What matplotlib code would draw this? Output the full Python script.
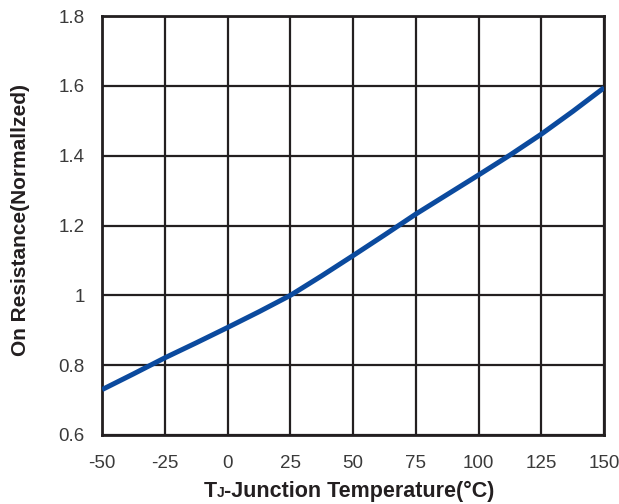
import numpy as np
import matplotlib.pyplot as plt
from matplotlib.offsetbox import TextArea, HPacker, AnchoredOffsetbox

plt.rcParams['font.family'] = ['Liberation Sans', 'DejaVu Sans']
plt.rcParams['axes.unicode_minus'] = False

# junction temperature (°C) and normalized on-resistance
temp_c = [-50, -37.5, -25, -12.5, 0, 12.5, 25, 37.5, 50, 62.5,
          75, 87.5, 100, 112.5, 125, 137.5, 150]
r_on_norm = [0.730, 0.775, 0.821, 0.864, 0.908, 0.953, 1.000, 1.056, 1.114, 1.173,
             1.233, 1.289, 1.345, 1.402, 1.462, 1.527, 1.595]

x_ticks = [-50, -25, 0, 25, 50, 75, 100, 125, 150]
y_ticks = [0.6, 0.8, 1.0, 1.2, 1.4, 1.6, 1.8]

grid_col = "#231f20"
line_col = "#0b4a9e"
text_col = "#231f20"

fig = plt.figure(figsize=(6.19, 5.04), dpi=100, facecolor="white")
ax = fig.add_axes([0.165, 0.137, 0.811, 0.831])

ax.plot(temp_c, r_on_norm, color=line_col, lw=3.6, solid_capstyle="butt", zorder=3)

ax.set_xlim(-50, 150)
ax.set_ylim(0.6, 1.8)
ax.set_xticks(x_ticks)
ax.set_yticks(y_ticks)
ax.set_yticklabels([f"{v:g}" for v in y_ticks])
ax.grid(True, color=grid_col, lw=1.6)
ax.tick_params(length=0, labelsize=13.5, labelcolor="#3a3a3a")
ax.tick_params(axis="y", pad=12.5)
ax.tick_params(axis="x", pad=14.5)
for s in ax.spines.values():
    s.set_color(grid_col)
    s.set_linewidth(2.0)

fig.text(21 / 619, 1 - 220 / 504, "On Resistance(Normallzed)", rotation=90,
         ha="center", va="center", fontsize=15, fontweight="bold", color=text_col)

# x label with the small "J" after "T"
parts = [TextArea("T", textprops=dict(fontsize=15.5, fontweight="bold", color=text_col)),
         TextArea("J", textprops=dict(fontsize=10, fontweight="bold", color=text_col)),
         TextArea("-Junction Temperature(°C)",
                  textprops=dict(fontsize=15.5, fontweight="bold", color=text_col))]
box = HPacker(children=parts, align="baseline", pad=0, sep=0)
anchored = AnchoredOffsetbox(loc="center", child=box, frameon=False,
                             bbox_to_anchor=(349 / 619, 1 - 491 / 504),
                             bbox_transform=fig.transFigure,
                             borderpad=0, pad=0)
fig.add_artist(anchored)

fig.savefig("out.png", dpi=100, facecolor="white")
